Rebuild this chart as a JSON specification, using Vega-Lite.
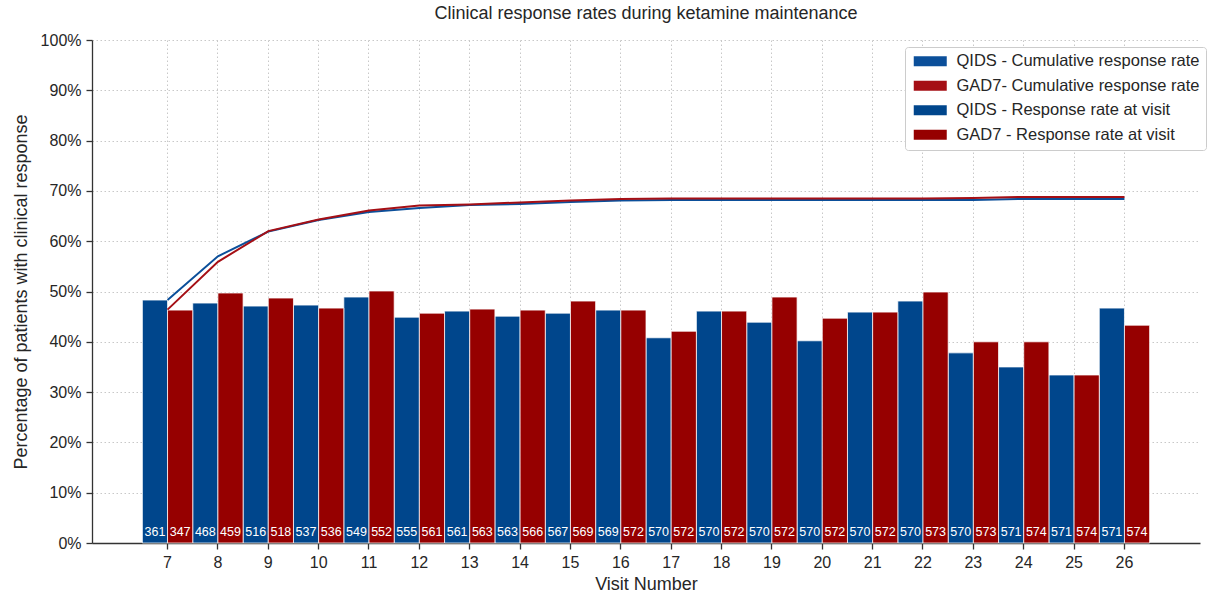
{
  "$schema": "https://vega.github.io/schema/vega-lite/v6.json",
  "autosize": "none",
  "width": 1108,
  "height": 503,
  "padding": {"left": 92, "top": 40, "right": 12, "bottom": 51},
  "background": "white",
  "config": {
    "font": "Liberation Sans",
    "view": {"stroke": null},
    "axis": {"labelFont": "Liberation Sans", "titleFont": "Liberation Sans", "labelFontSize": 16, "titleFontSize": 18, "labelColor": "#262626", "titleColor": "#262626", "titleFontWeight": "normal", "domainColor": "#333333", "domainWidth": 1.3, "tickColor": "#333333", "tickWidth": 1.3, "tickSize": 6, "gridColor": "#c8c8c8", "gridDash": [1.5, 2.5], "gridWidth": 1}
  },
  "title": {"text": "Clinical response rates during ketamine maintenance", "fontSize": 18, "fontWeight": "normal", "color": "#262626", "font": "Liberation Sans", "anchor": "middle", "offset": 9},
  "datasets": {
    "rates": [
      {"visit": 7, "series": "QIDS - Response rate at visit", "kind": "bar", "value": 48.3, "n": 361},
      {"visit": 8, "series": "QIDS - Response rate at visit", "kind": "bar", "value": 47.7, "n": 468},
      {"visit": 9, "series": "QIDS - Response rate at visit", "kind": "bar", "value": 47.1, "n": 516},
      {"visit": 10, "series": "QIDS - Response rate at visit", "kind": "bar", "value": 47.3, "n": 537},
      {"visit": 11, "series": "QIDS - Response rate at visit", "kind": "bar", "value": 48.9, "n": 549},
      {"visit": 12, "series": "QIDS - Response rate at visit", "kind": "bar", "value": 44.9, "n": 555},
      {"visit": 13, "series": "QIDS - Response rate at visit", "kind": "bar", "value": 46.1, "n": 561},
      {"visit": 14, "series": "QIDS - Response rate at visit", "kind": "bar", "value": 45.1, "n": 563},
      {"visit": 15, "series": "QIDS - Response rate at visit", "kind": "bar", "value": 45.7, "n": 567},
      {"visit": 16, "series": "QIDS - Response rate at visit", "kind": "bar", "value": 46.3, "n": 569},
      {"visit": 17, "series": "QIDS - Response rate at visit", "kind": "bar", "value": 40.8, "n": 570},
      {"visit": 18, "series": "QIDS - Response rate at visit", "kind": "bar", "value": 46.1, "n": 570},
      {"visit": 19, "series": "QIDS - Response rate at visit", "kind": "bar", "value": 43.9, "n": 570},
      {"visit": 20, "series": "QIDS - Response rate at visit", "kind": "bar", "value": 40.2, "n": 570},
      {"visit": 21, "series": "QIDS - Response rate at visit", "kind": "bar", "value": 45.9, "n": 570},
      {"visit": 22, "series": "QIDS - Response rate at visit", "kind": "bar", "value": 48.1, "n": 570},
      {"visit": 23, "series": "QIDS - Response rate at visit", "kind": "bar", "value": 37.8, "n": 570},
      {"visit": 24, "series": "QIDS - Response rate at visit", "kind": "bar", "value": 35.0, "n": 571},
      {"visit": 25, "series": "QIDS - Response rate at visit", "kind": "bar", "value": 33.4, "n": 571},
      {"visit": 26, "series": "QIDS - Response rate at visit", "kind": "bar", "value": 46.7, "n": 571},
      {"visit": 7, "series": "GAD7 - Response rate at visit", "kind": "bar", "value": 46.3, "n": 347},
      {"visit": 8, "series": "GAD7 - Response rate at visit", "kind": "bar", "value": 49.7, "n": 459},
      {"visit": 9, "series": "GAD7 - Response rate at visit", "kind": "bar", "value": 48.7, "n": 518},
      {"visit": 10, "series": "GAD7 - Response rate at visit", "kind": "bar", "value": 46.7, "n": 536},
      {"visit": 11, "series": "GAD7 - Response rate at visit", "kind": "bar", "value": 50.1, "n": 552},
      {"visit": 12, "series": "GAD7 - Response rate at visit", "kind": "bar", "value": 45.7, "n": 561},
      {"visit": 13, "series": "GAD7 - Response rate at visit", "kind": "bar", "value": 46.5, "n": 563},
      {"visit": 14, "series": "GAD7 - Response rate at visit", "kind": "bar", "value": 46.3, "n": 566},
      {"visit": 15, "series": "GAD7 - Response rate at visit", "kind": "bar", "value": 48.1, "n": 569},
      {"visit": 16, "series": "GAD7 - Response rate at visit", "kind": "bar", "value": 46.3, "n": 572},
      {"visit": 17, "series": "GAD7 - Response rate at visit", "kind": "bar", "value": 42.1, "n": 572},
      {"visit": 18, "series": "GAD7 - Response rate at visit", "kind": "bar", "value": 46.1, "n": 572},
      {"visit": 19, "series": "GAD7 - Response rate at visit", "kind": "bar", "value": 48.9, "n": 572},
      {"visit": 20, "series": "GAD7 - Response rate at visit", "kind": "bar", "value": 44.7, "n": 572},
      {"visit": 21, "series": "GAD7 - Response rate at visit", "kind": "bar", "value": 45.9, "n": 572},
      {"visit": 22, "series": "GAD7 - Response rate at visit", "kind": "bar", "value": 49.9, "n": 573},
      {"visit": 23, "series": "GAD7 - Response rate at visit", "kind": "bar", "value": 40.0, "n": 573},
      {"visit": 24, "series": "GAD7 - Response rate at visit", "kind": "bar", "value": 40.0, "n": 574},
      {"visit": 25, "series": "GAD7 - Response rate at visit", "kind": "bar", "value": 33.4, "n": 574},
      {"visit": 26, "series": "GAD7 - Response rate at visit", "kind": "bar", "value": 43.3, "n": 574},
      {"visit": 7, "series": "QIDS - Cumulative response rate", "kind": "line", "value": 48.3},
      {"visit": 8, "series": "QIDS - Cumulative response rate", "kind": "line", "value": 57.0},
      {"visit": 9, "series": "QIDS - Cumulative response rate", "kind": "line", "value": 61.9},
      {"visit": 10, "series": "QIDS - Cumulative response rate", "kind": "line", "value": 64.2},
      {"visit": 11, "series": "QIDS - Cumulative response rate", "kind": "line", "value": 65.8},
      {"visit": 12, "series": "QIDS - Cumulative response rate", "kind": "line", "value": 66.6},
      {"visit": 13, "series": "QIDS - Cumulative response rate", "kind": "line", "value": 67.2},
      {"visit": 14, "series": "QIDS - Cumulative response rate", "kind": "line", "value": 67.4},
      {"visit": 15, "series": "QIDS - Cumulative response rate", "kind": "line", "value": 67.8},
      {"visit": 16, "series": "QIDS - Cumulative response rate", "kind": "line", "value": 68.1},
      {"visit": 17, "series": "QIDS - Cumulative response rate", "kind": "line", "value": 68.2},
      {"visit": 18, "series": "QIDS - Cumulative response rate", "kind": "line", "value": 68.2},
      {"visit": 19, "series": "QIDS - Cumulative response rate", "kind": "line", "value": 68.2},
      {"visit": 20, "series": "QIDS - Cumulative response rate", "kind": "line", "value": 68.2},
      {"visit": 21, "series": "QIDS - Cumulative response rate", "kind": "line", "value": 68.2},
      {"visit": 22, "series": "QIDS - Cumulative response rate", "kind": "line", "value": 68.2},
      {"visit": 23, "series": "QIDS - Cumulative response rate", "kind": "line", "value": 68.2},
      {"visit": 24, "series": "QIDS - Cumulative response rate", "kind": "line", "value": 68.4},
      {"visit": 25, "series": "QIDS - Cumulative response rate", "kind": "line", "value": 68.4},
      {"visit": 26, "series": "QIDS - Cumulative response rate", "kind": "line", "value": 68.4},
      {"visit": 7, "series": "GAD7- Cumulative response rate", "kind": "line", "value": 46.4},
      {"visit": 8, "series": "GAD7- Cumulative response rate", "kind": "line", "value": 55.9},
      {"visit": 9, "series": "GAD7- Cumulative response rate", "kind": "line", "value": 62.0},
      {"visit": 10, "series": "GAD7- Cumulative response rate", "kind": "line", "value": 64.3},
      {"visit": 11, "series": "GAD7- Cumulative response rate", "kind": "line", "value": 66.1},
      {"visit": 12, "series": "GAD7- Cumulative response rate", "kind": "line", "value": 67.1},
      {"visit": 13, "series": "GAD7- Cumulative response rate", "kind": "line", "value": 67.3},
      {"visit": 14, "series": "GAD7- Cumulative response rate", "kind": "line", "value": 67.7},
      {"visit": 15, "series": "GAD7- Cumulative response rate", "kind": "line", "value": 68.1},
      {"visit": 16, "series": "GAD7- Cumulative response rate", "kind": "line", "value": 68.4},
      {"visit": 17, "series": "GAD7- Cumulative response rate", "kind": "line", "value": 68.5},
      {"visit": 18, "series": "GAD7- Cumulative response rate", "kind": "line", "value": 68.5},
      {"visit": 19, "series": "GAD7- Cumulative response rate", "kind": "line", "value": 68.5},
      {"visit": 20, "series": "GAD7- Cumulative response rate", "kind": "line", "value": 68.5},
      {"visit": 21, "series": "GAD7- Cumulative response rate", "kind": "line", "value": 68.5},
      {"visit": 22, "series": "GAD7- Cumulative response rate", "kind": "line", "value": 68.5},
      {"visit": 23, "series": "GAD7- Cumulative response rate", "kind": "line", "value": 68.6},
      {"visit": 24, "series": "GAD7- Cumulative response rate", "kind": "line", "value": 68.8},
      {"visit": 25, "series": "GAD7- Cumulative response rate", "kind": "line", "value": 68.8},
      {"visit": 26, "series": "GAD7- Cumulative response rate", "kind": "line", "value": 68.8}
    ]
  },
  "data": {"name": "rates"},
  "encoding": {
    "x": {"field": "visit", "type": "ordinal", "scale": {"paddingInner": 0, "paddingOuter": 1},
      "axis": {"title": "Visit Number", "labelAngle": 0, "grid": true, "labelPadding": 5, "titlePadding": 5}},
    "y": {"field": "value", "type": "quantitative", "scale": {"domain": [0, 100]},
      "axis": {"title": "Percentage of patients with clinical response", "values": [0,10,20,30,40,50,60,70,80,90,100], "labelExpr": "datum.value + '%'", "grid": true, "titlePadding": 10, "labelPadding": 5}}
  },
  "layer": [
    {
      "transform": [{"filter": "datum.kind == 'bar'"}],
      "mark": {"type": "bar", "stroke": "white", "strokeWidth": 1, "strokeOpacity": 0.75},
      "encoding": {
        "xOffset": {"field": "series", "type": "nominal", "scale": {"domain": ["QIDS - Response rate at visit", "GAD7 - Response rate at visit"], "paddingInner": 0}},
        "color": {"field": "series", "type": "nominal",
          "scale": {"domain": ["QIDS - Cumulative response rate", "GAD7- Cumulative response rate", "QIDS - Response rate at visit", "GAD7 - Response rate at visit"], "range": ["#0B4F9A", "#A50F15", "#00468C", "#960000"]},
          "legend": {
            "title": null, "orient": "none", "legendX": 813, "legendY": 7,
            "labelFontSize": 16.5, "labelColor": "#262626", "labelFont": "Liberation Sans", "labelLimit": 400,
            "symbolType": "M-3.3,-1H3.3V1H-3.3Z", "symbolStrokeWidth": 0,
            "symbolSize": 100, "symbolOffset": 11, "labelOffset": 18, "rowPadding": 7.5,
            "padding": 6, "strokeColor": "#cccccc", "fillColor": "white", "cornerRadius": 3
          }
        }
      }
    },
    {
      "transform": [{"filter": "datum.kind == 'bar'"}],
      "mark": {"type": "text", "baseline": "bottom", "dy": -4, "fontSize": 12.5, "color": "white", "font": "Liberation Sans"},
      "encoding": {
        "xOffset": {"field": "series", "type": "nominal"},
        "y": {"datum": 0},
        "text": {"field": "n", "type": "quantitative"}
      }
    },
    {
      "transform": [{"filter": "datum.kind == 'line'"}],
      "mark": {"type": "line", "strokeWidth": 2},
      "encoding": {
        "color": {"field": "series", "type": "nominal"}
      }
    }
  ]
}
